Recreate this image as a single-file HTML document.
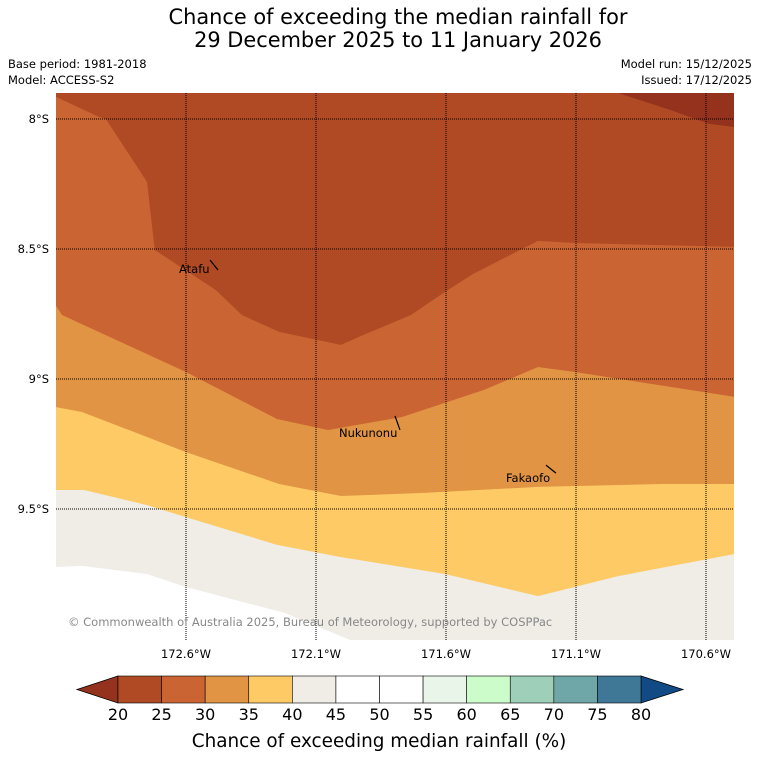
<!DOCTYPE html>
<html><head><meta charset="utf-8"><style>
body{margin:0;background:#fff;width:758px;height:781px;overflow:hidden}
svg{display:block;font-family:"DejaVu Sans","Liberation Sans",sans-serif}
</style></head><body>
<svg id="c" width="758" height="781" viewBox="0 0 758 781">
<text x="398" y="24" font-size="20.9" text-anchor="middle">Chance of exceeding the median rainfall for</text>
<text x="398" y="47" font-size="20.9" text-anchor="middle">29 December 2025 to 11 January 2026</text>
<text x="8" y="68" font-size="11.5">Base period: 1981-2018</text>
<text x="8" y="84" font-size="11.5">Model: ACCESS-S2</text>
<text x="752" y="68" font-size="11.5" text-anchor="end">Model run: 15/12/2025</text>
<text x="752" y="84" font-size="11.5" text-anchor="end">Issued: 17/12/2025</text>
<g id="map"></g>
<g id="cb"></g>
<text x="379" y="747" font-size="18.4" text-anchor="middle">Chance of exceeding median rainfall (%)</text>
</svg>
<script>
// contour boundaries [lonW, latS]
const bound0 = [[170.938,7.9],[170.738,7.965],[170.588,8.019],[170.49,8.031]];
const bound1 = [[173.1,7.915],[172.935,7.992],[172.908,8.0],[172.75,8.242],[172.72,8.504],[172.485,8.658],[172.385,8.754],[172.242,8.819],[172.004,8.869],[171.935,8.838],[171.735,8.754],[171.604,8.665],[171.496,8.596],[171.246,8.469],[171.104,8.477],[170.49,8.492]];
const bound2 = [[173.1,8.719],[173.077,8.754],[172.6,8.973],[172.25,9.154],[172.054,9.196],[171.769,9.146],[171.454,9.042],[171.246,8.954],[171.104,8.973],[170.49,9.069]];
const bound3 = [[173.1,9.108],[173.0,9.127],[172.75,9.223],[172.6,9.281],[172.242,9.404],[172.004,9.45],[171.685,9.438],[171.246,9.415],[170.773,9.404],[170.49,9.404]];
const bound4 = [[173.1,9.427],[172.992,9.427],[172.75,9.485],[172.6,9.531],[172.25,9.638],[172.004,9.685],[171.604,9.75],[171.246,9.835],[170.938,9.758],[170.49,9.673]];
const bound5 = [[173.1,9.723],[173.0,9.719],[172.75,9.75],[172.6,9.8],[172.219,9.9],[171.969,10.004]];
const lonTicks = [172.6,172.1,171.6,171.1,170.6];
const latTicks = [8,8.5,9,9.5];
const placeNames = ["Atafu","Nukunonu","Fakaofo"];
const placeLon = [172.477,171.777,171.177];
const placeLat = [8.581,9.196,9.362];
const cbLevels = [20,25,30,35,40,45,50,55,60,65,70,75,80];
const cbColors = ["#b04a24","#ca6432","#e09444","#fdca66","#f0ece6","#ffffff","#ffffff","#eaf5ea","#ccfcc9","#9ed0b9","#6fa6a7","#3f7796"];

const X0=56,X1=734,Y0=93,Y1=640;
const xs = lon => 186 + (172.6-lon)*260;
const ys = lat => 119 + (lat-8)*260;
const NS="http://www.w3.org/2000/svg";
const map=document.getElementById('map');
function mk(tag,at,parent){const e=document.createElementNS(NS,tag);for(const k in at)e.setAttribute(k,at[k]);parent.appendChild(e);return e;}
const pts=b=>b.map(p=>xs(p[0]).toFixed(1)+','+ys(p[1]).toFixed(1));
let cp=mk('clipPath',{id:'clip'},map);mk('rect',{x:X0,y:Y0,width:X1-X0,height:Y1-Y0},cp);
const g=mk('g',{'clip-path':'url(#clip)'},map);
let r=mk('rect',{x:X0,y:Y0,width:X1-X0,height:Y1-Y0,fill:'#fff'},g);


const layers=[[bound5,'#f0ece6',true],[bound4,'#fdca66'],[bound3,'#e09444'],[bound2,'#ca6432'],[bound1,'#b04a24']];
layers.forEach((L,i)=>{
  let p=pts(L[0]);
  if(L[2]) p=p.concat([X1+','+Y1]);
  p=p.concat([X1+','+Y0,X0+','+Y0]);
  const e=mk('polygon',{points:p.join(' '),fill:L[1]},g);
  
  
});
{const e=mk('polygon',{points:pts(bound0).concat([X1+','+Y0]).join(' '),fill:'#94321d'},g);

}
lonTicks.forEach(l=>{const x=xs(l);
  const e=mk('line',{x1:x,x2:x,y1:Y0,y2:Y1,stroke:'#000','stroke-width':1,'stroke-dasharray':'1,1'},map);
  
  
  const t=mk('text',{x:x,y:658,'font-size':11.5,'text-anchor':'middle'},map);t.textContent=l+'°W';
  
  });
latTicks.forEach(l=>{const y=ys(l);
  const e=mk('line',{x1:X0,x2:X1,y1:y,y2:y,stroke:'#000','stroke-width':1,'stroke-dasharray':'1,1'},map);
  
  
  const t=mk('text',{x:49,y:y+4,'font-size':11.5,'text-anchor':'end'},map);t.textContent=l+'°S';
  
  });
const mOff=[[-8,-10],[-5,-14],[-10,-8]], tOff=[[-39,3],[-61,7],[-50,9]];
placeNames.forEach((n,i)=>{const x=xs(placeLon[i]),y=ys(placeLat[i]);
  const l=mk('line',{x1:x+mOff[i][0],y1:y+mOff[i][1],x2:x,y2:y,stroke:'#000','stroke-width':1.2},map);
  
  
  const t=mk('text',{x:x+tOff[i][0],y:y+tOff[i][1],'font-size':11.5},map);t.textContent=n;
  
  });
{const t=mk('text',{x:68,y:626,'font-size':11.5,fill:'#888'},map);t.textContent='© Commonwealth of Australia 2025, Bureau of Meteorology, supported by COSPPac';

}
// colorbar
const cb=document.getElementById('cb');
const CX0=118,CX1=641,CY0=676,CY1=703;
const cx=v=>CX0+(v-cbLevels[0])/(cbLevels[cbLevels.length-1]-cbLevels[0])*(CX1-CX0);
{const e=mk('polygon',{points:`${CX0},${CY0} 77,${(CY0+CY1)/2} ${CX0},${CY1}`,fill:'#94321d',stroke:'#000','stroke-width':0.8},cb);


const f=mk('polygon',{points:`${CX1},${CY0} 683,${(CY0+CY1)/2} ${CX1},${CY1}`,fill:'#124a85',stroke:'#000','stroke-width':0.8},cb);

}
cbColors.forEach((c,i)=>{const e=mk('rect',{x:cx(cbLevels[i]),y:CY0,width:cx(cbLevels[i+1])-cx(cbLevels[i]),height:CY1-CY0,fill:c,stroke:'#000','stroke-width':0.6},cb);
  
  });
cbLevels.forEach(v=>{const t=mk('text',{x:cx(v),y:720,'font-size':16,'text-anchor':'middle'},cb);t.textContent=v;
  
  });
</script>
</body></html>
